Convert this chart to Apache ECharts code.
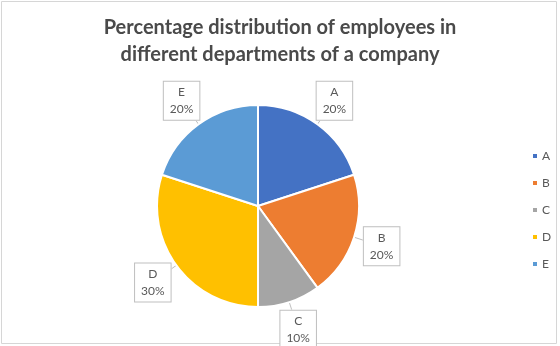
<!DOCTYPE html>
<html>
<head>
<meta charset="utf-8">
<script src="https://cdn.jsdelivr.net/npm/echarts@6/dist/echarts.min.js"></script>
<style>
  html, body { margin: 0; padding: 0; background: #fff; }
  #chart { width: 560px; height: 346px; }
</style>
</head>
<body>
<div id="chart"></div>
<script>
// Departments and their share of employees (percent)
const departments = ['A', 'B', 'C', 'D', 'E'];
const shares = [20, 20, 10, 30, 20];
const sliceColors = ['#4472C4', '#ED7D31', '#A5A5A5', '#FFC000', '#5B9BD5'];
const titleLines = ['Percentage distribution of employees in', 'different departments of a company'];

const textColor = '#595959';
const fontFamily = 'Lato, "Open Sans", "Liberation Sans", sans-serif';

const chart = echarts.init(document.getElementById('chart'), null, { renderer: 'canvas' });

// Callout box: centred on the end of the radial leader, with a short
// pointer drawn back to the slice edge.
function calloutLayout(params) {
  const pts = params.labelLinePoints;
  if (!pts) return {};
  const p0 = pts[0];
  const c = pts[1];
  const hw = params.labelRect.width / 2;
  const hh = params.labelRect.height / 2;
  const dx = p0[0] - c[0];
  const dy = p0[1] - c[1];
  const t = Math.min(hw / Math.max(Math.abs(dx), 1e-6), hh / Math.max(Math.abs(dy), 1e-6));
  const edge = [c[0] + dx * t, c[1] + dy * t];
  return {
    x: c[0],
    y: c[1],
    align: 'center',
    verticalAlign: 'middle',
    labelLinePoints: [p0, edge, edge]
  };
}

chart.setOption({
  animation: false,
  backgroundColor: '#ffffff',
  color: sliceColors,
  title: {
    text: titleLines.join('\n'),
    left: 'center',
    top: 14,
    padding: 0,
    textStyle: {
      fontFamily: fontFamily,
      fontSize: 20,
      fontWeight: 'bold',
      color: '#4a4a4a',
      lineHeight: 27
    }
  },
  legend: {
    orient: 'vertical',
    left: 526,
    top: 144,
    icon: 'rect',
    itemWidth: 6,
    itemHeight: 6,
    itemGap: 13,
    data: departments,
    textStyle: {
      fontFamily: fontFamily,
      fontSize: 12,
      lineHeight: 14,
      color: textColor,
      padding: [0, 0, 0, -1]
    }
  },
  graphic: [{
    type: 'rect',
    silent: true,
    shape: { x: 1.5, y: 1.5, width: 555, height: 342 },
    style: { fill: 'none', stroke: '#d6d6d6', lineWidth: 1 }
  }],
  series: [{
    type: 'pie',
    center: [258, 206],
    radius: 101,
    startAngle: 90,
    clockwise: true,
    avoidLabelOverlap: false,
    itemStyle: { borderColor: '#ffffff', borderWidth: 2 },
    label: {
      show: true,
      position: 'outside',
      formatter: '{b}\n{d}%',
      fontFamily: fontFamily,
      fontSize: 12,
      lineHeight: 17,
      color: textColor,
      align: 'center',
      backgroundColor: '#ffffff',
      borderColor: '#bfbfbf',
      borderWidth: 1,
      padding: [2, 6, 2, 6]
    },
    labelLine: {
      show: true,
      length: 29,
      length2: 0,
      lineStyle: { color: '#bfbfbf', width: 1 }
    },
    labelLayout: calloutLayout,
    data: departments.map((name, i) => ({ name: name, value: shares[i] }))
  }]
});
</script>
</body>
</html>
